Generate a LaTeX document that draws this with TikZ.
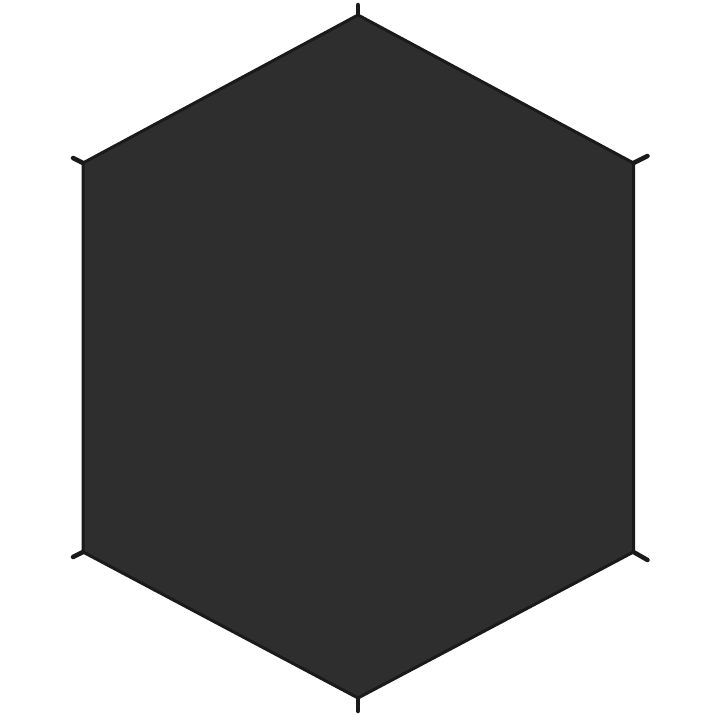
\documentclass[tikz,border=0pt]{standalone}
\usepackage{tikz}
\usetikzlibrary{calc}

\definecolor{sheet}{HTML}{2E2E2E}
\definecolor{rim}{HTML}{1A1A1A}

\begin{document}
\begin{tikzpicture}[x=1pt,y=-1pt]
	\useasboundingbox (0,0) rectangle (720,720);
	\tikzset{tab/.style={draw=rim, line width=4.5pt, line cap=round}}

	\coordinate (T) at (358,15);
	\coordinate (UR) at (633.5,163);
	\coordinate (LR) at (633.5,552);
	\coordinate (B) at (358,698);
	\coordinate (LL) at (83,552);
	\coordinate (UL) at (83,163);

	% Footprint sheet
	\filldraw[fill=sheet, draw=rim, line width=3pt, line join=round] (T) -- (UR) -- (LR) -- (B) -- (LL) -- (UL) -- cycle;

	% Corner tabs
	\draw[tab] (T) -- ++(0,-10);
	\draw[tab] (B) -- ++(0,13);
	\draw[tab] (UR) -- ++(14,-7);
	\draw[tab] (LR) -- ++(14,8);
	\draw[tab] (UL) -- ++(-10,-5);
	\draw[tab] (LL) -- ++(-10,5);
\end{tikzpicture}
\end{document}
